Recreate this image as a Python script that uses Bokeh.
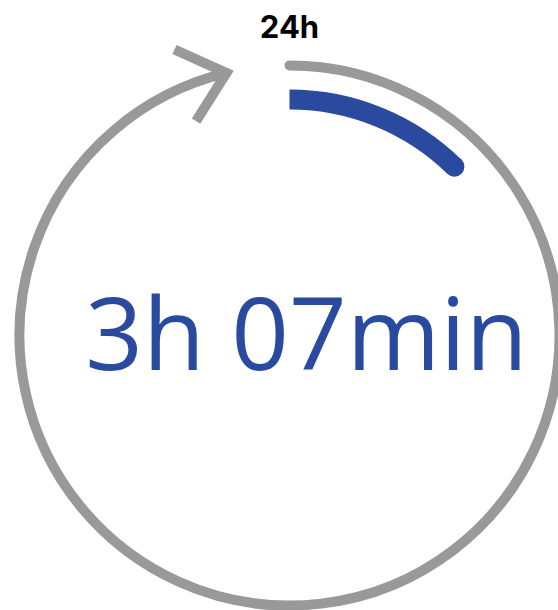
import math

from bokeh.core.properties import value
from bokeh.embed import file_html
from bokeh.models import Range1d
from bokeh.plotting import figure
from bokeh.resources import INLINE

# Daily time summary: elapsed time against a 24-hour clock
day_minutes = 24 * 60
elapsed_minutes = [3 * 60 + 7]
elapsed_label = ["3h 07min"]
day_label = ["24h"]

W, H = 558, 610
GREY = "#999999"
BLUE = "#2a4aa0"

# ring geometry (screen pixels; y is flipped below so data y grows upward)
cx, cy = 289, H - 335
ring_r = 270
ring_w = 10
gap_deg = 13.5           # open gap before 12 o'clock where the arrow head sits
prog_r = 236
prog_w = 20

p = figure(width=W, height=H, output_backend="svg", toolbar_location=None,
           x_range=Range1d(0, W), y_range=Range1d(0, H),
           min_border=0, outline_line_color=None)
p.axis.visible = False
p.grid.visible = False
p.background_fill_color = "white"
p.border_fill_color = "white"


def clock_to_math(deg):
    """Clock angle (clockwise from 12 o'clock) to math angle in radians."""
    return math.radians(90.0 - deg)


def clock_point(r, deg):
    a = clock_to_math(deg)
    return cx + r * math.cos(a), cy + r * math.sin(a)


# grey day ring, running clockwise from 12 o'clock
p.arc(x=[cx], y=[cy], radius=ring_r,
      start_angle=clock_to_math(0), end_angle=clock_to_math(360 - gap_deg),
      direction="clock",
      line_color=GREY, line_width=ring_w, line_cap="round")

# open arrow head at the end of the ring
tip_x, tip_y = clock_point(ring_r, 360 - gap_deg)
head_dir = math.radians(16.75)        # pointing right and slightly upward
back = head_dir + math.pi
spread = math.radians(41)
arm = 57
xs = [tip_x + arm * math.cos(back - spread), tip_x, tip_x + arm * math.cos(back + spread)]
ys = [tip_y + arm * math.sin(back - spread), tip_y, tip_y + arm * math.sin(back + spread)]
p.line(xs, ys, line_color=GREY, line_width=ring_w, line_join="miter", line_cap="butt")

# blue progress arc: flat start at 12 o'clock, rounded end finishing at the value
prog_deg = elapsed_minutes[0] / day_minutes * 360.0
cap_deg = math.degrees((prog_w / 2) / prog_r)
end_deg = prog_deg - cap_deg
p.arc(x=[cx], y=[cy], radius=prog_r,
      start_angle=clock_to_math(0), end_angle=clock_to_math(end_deg),
      direction="clock",
      line_color=BLUE, line_width=prog_w, line_cap="butt")
ex, ey = clock_point(prog_r, end_deg)
p.scatter([ex], [ey], size=prog_w, marker="circle", fill_color=BLUE, line_color=None)

# labels
p.text(x=[289], y=[H - 26], text=day_label, text_align="center",
       text_baseline="middle", text_font=value("Inter"),
       text_font_style="bold", text_font_size="31px", text_color="black")
p.text(x=[306], y=[H - 330], text=elapsed_label, text_align="center",
       text_baseline="middle", text_font=value("Open Sans"),
       text_font_size="101px", text_color=BLUE)

open("out.html", "w").write(file_html(p, INLINE))
